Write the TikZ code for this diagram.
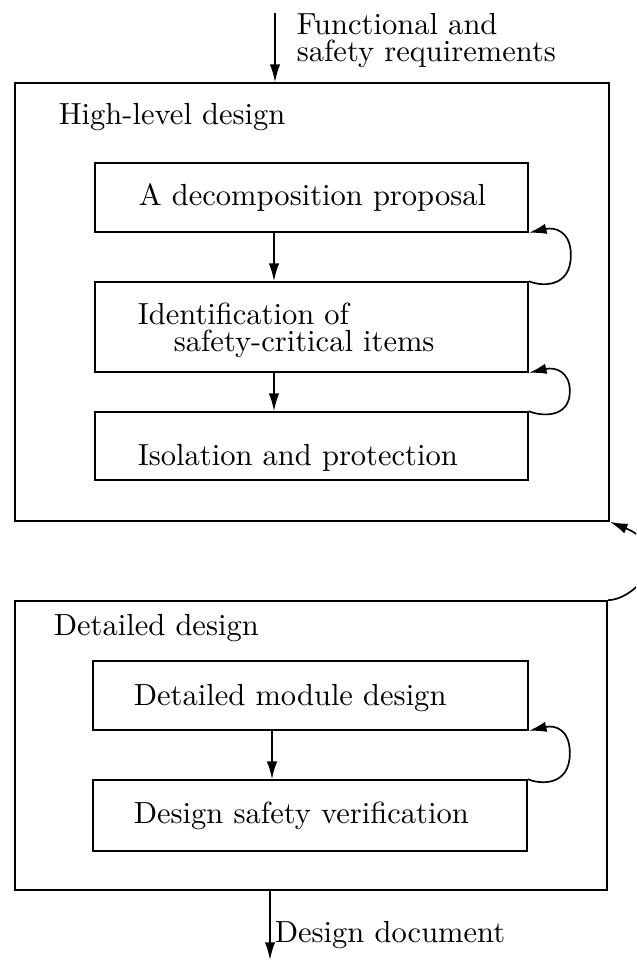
\documentclass[tikz,border=0pt]{standalone}
\usetikzlibrary{arrows.meta,fit}
\begin{document}
\begin{tikzpicture}[x=0.3276pt,y=-0.3276pt,
  line width=0.55pt,
  box/.style={draw, inner sep=0pt},
  lbl/.style={anchor=base west, inner sep=0pt, font=\normalsize},
  arr/.style={-{Latex[length=5.8pt,width=3.4pt]}},
]
\useasboundingbox (0,0) rectangle (636,961);
\clip (0,0) rectangle (636,961);

% outer phases
\node[box, fit={(15,83) (609,521)}] (hl) {};
\node[box, fit={(15,601) (607,890)}] (dd) {};

% steps of the high-level design
\node[box, fit={(95,163) (528,232)}] (dec) {};
\node[box, fit={(95,282) (528,372)}] (idn) {};
\node[box, fit={(95,412) (528,480)}] (iso) {};

% steps of the detailed design
\node[box, fit={(93,661) (528,730)}] (dmd) {};
\node[box, fit={(93,780) (527,851)}] (dsv) {};

% labels
\node[lbl] (tin1) at (296,35) {Functional and};
\node[lbl] (tin2) at (296,62) {safety requirements};
\node[lbl] (thl) at (58,125) {High-level design};
\node[lbl] (tdec) at (138,206) {A decomposition proposal};
\node[lbl] (tidn1) at (137,325) {Identification of};
\node[lbl] (tidn2) at (173,352) {safety-critical items};
\node[lbl] (tiso) at (137,465) {Isolation and protection};
\node[lbl] (tdd) at (53,635) {Detailed design};
\node[lbl] (tdmd) at (133,705) {Detailed module design};
\node[lbl] (tdsv) at (133,823) {Design safety verification};
\node[lbl] (tout) at (274,942) {Design document};

% flow arrows
\coordinate (src) at (275,13);
\coordinate (sink) at (270,960);
\coordinate (ax) at (274,0);
\coordinate (bx) at (272,0);
\draw[arr] (src) -- (src |- hl.north);
\draw[arr] (ax |- dec.south) -- (ax |- idn.north);
\draw[arr] (ax |- idn.south) -- (ax |- iso.north);
\draw[arr] (bx |- dmd.south) -- (bx |- dsv.north);
\draw[arr] (sink |- dd.south) -- (sink);

% feedback loops
\draw[arr] (idn.north east) .. controls +(11,5) and +(0,34) .. ++(42,-26)
  .. controls +(0,-24) and +(26,-6) .. (dec.south east);
\draw[arr] (iso.north east) .. controls +(11,5) and +(0,28) .. ++(41,-20)
  .. controls +(0,-20) and +(26,-6) .. (idn.south east);
\draw[arr] (dsv.north east) .. controls +(11,5) and +(0,34) .. ++(42,-26)
  .. controls +(0,-24) and +(26,-6) .. (dmd.south east);
\draw[arr] (dd.north east) .. controls +(18,0) and +(0,20) .. ++(43,-41)
  .. controls +(0,-20) and +(22,9) .. (hl.south east);
\end{tikzpicture}
\end{document}
